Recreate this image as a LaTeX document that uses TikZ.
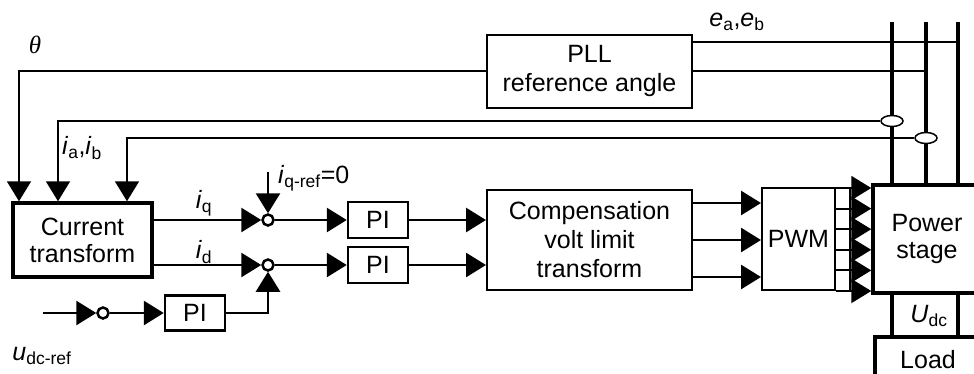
\documentclass[tikz,border=0pt]{standalone}
\usepackage{fontspec}
\setmainfont{Liberation Sans}
\newfontfamily\thetafont{Liberation Serif}
\usetikzlibrary{positioning, shapes, arrows.meta}

\tikzset{
  blk/.style={draw, line width=2pt, align=center, inner sep=0pt},
  sig/.style={line width=2.8pt, -{Triangle[length=20pt,width=24pt]}},
  fb/.style={line width=1.8pt, -{Triangle[length=20pt,width=24pt]}},
  wire/.style={line width=1.6pt},
  bus/.style={line width=4.5pt},
  sumpt/.style={draw, circle, line width=2.5pt, fill=white, inner sep=0pt, minimum size=11pt},
  tap/.style={draw, ellipse, line width=1.5pt, fill=white, inner sep=0pt, minimum width=22pt, minimum height=11pt},
  lbl/.style={inner sep=0pt},
}

\begin{document}
\begin{tikzpicture}[x=1pt, y=-1pt, font=\fontsize{25}{29}\selectfont]
  \useasboundingbox (0,0) rectangle (974,373);
  \clip (0,0) rectangle (974,373);

  % Blocks
  \node[blk, line width=3.5pt, minimum width=139pt, minimum height=74pt, font=\fontsize{25}{27}\selectfont] (ct) at (82.5,240) {Current\\transform};
  \node[blk, minimum width=205pt, minimum height=73pt] (pll) at (589.5,71) {PLL\\reference angle};
  \node[blk, minimum width=205pt, minimum height=100pt] (comp) at (589.5,240) {Compensation\\volt limit\\transform};
  \node[blk, line width=2.5pt, minimum width=60pt, minimum height=36pt] (pi1) at (378,220) {PI};
  \node[blk, line width=2.5pt, minimum width=60pt, minimum height=36pt] (pi2) at (378,265) {PI};
  \node[blk, line width=2.5pt, minimum width=60pt, minimum height=35pt] (pi3) at (195,313) {PI};
  \node[blk, minimum width=73pt, minimum height=102pt] (pwm) at (798.5,239) {PWM};
  \node[blk, line width=3.5pt, minimum width=108pt, minimum height=108pt, font=\fontsize{25}{27}\selectfont] (ps) at (927,239) {Power\\stage};
  \node[blk, line width=3.5pt, minimum width=106pt, minimum height=46pt] (load) at (928,360) {Load};

  \node[sumpt] (s1) at (268,220) {};
  \node[sumpt] (s2) at (268,265) {};
  \node[sumpt] (s3) at (103,313) {};

  \coordinate (b1) at (892,22);
  \coordinate (b2) at (926,22);
  \coordinate (b3) at (958,22);
  \coordinate (ea) at (958,42);
  \coordinate (eb) at (926,71);
  \coordinate (th) at (19,71);
  \coordinate (ina) at (58,121);
  \coordinate (inb) at (127,138);
  \coordinate (qref) at (268,172);
  \coordinate (udc) at (43,313);

  % Grid side
  \foreach \b in {b1,b2,b3}
    \draw[bus] (\b) -- (\b |- ps.north);
  \draw[wire] (pll.east |- ea) -- (ea);
  \draw[wire] (pll.east |- eb) -- (eb);
  \draw[bus] (ps.south -| b1) -- (load.north -| b1);
  \draw[bus] (ps.south -| b3) -- (load.north -| b3);

  % Feedback
  \draw[fb] (pll) -| (th |- ct.north);
  \node[tap] (ta) at (892,121) {};
  \node[tap] (tb) at (926,138) {};
  \draw[fb] (ta) -| (ina |- ct.north);
  \draw[fb] (tb) -| (inb |- ct.north);

  % Control path
  \draw[sig] (ct.east |- s1) -- (s1);
  \draw[sig] (ct.east |- s2) -- (s2);
  \draw[sig] (qref) -- (s1);
  \draw[sig] (s1) -- (pi1);
  \draw[sig] (s2) -- (pi2);
  \draw[sig] (pi1) -- (pi1 -| comp.west);
  \draw[sig] (pi2) -- (pi2 -| comp.west);
  \draw[sig] (udc) -- (s3);
  \draw[sig] (s3) -- (pi3);
  \draw[sig] (pi3) -| (s2);
  \foreach \y in {203,240,277}
    \draw[sig] (comp.east |- 0,\y) -- (pwm.west |- 0,\y);
  \foreach \y in {188,208.6,229.2,249.8,270.4,291}
    \draw[sig, line width=2pt] (pwm.east |- 0,\y) -- (ps.west |- 0,\y);
  \draw[line width=2pt] ([xshift=14pt]pwm.north east) -- ([xshift=14pt,yshift=-1pt]pwm.south east);

  % Labels
  \node[lbl] (lth) at (35,45) {\thetafont\itshape θ};
  \node[lbl] (le) at (737,22) {\textit{e}\textsubscript{a},\textit{e}\textsubscript{b}};
  \node[lbl, anchor=west] (lab) at (62,148) {\textit{i}\textsubscript{a},\textit{i}\textsubscript{b}};
  \node[lbl] (liq) at (204,203) {\textit{i}\textsubscript{q}};
  \node[lbl] (lid) at (204,252) {\textit{i}\textsubscript{d}};
  \node[lbl, anchor=west] (lqr) at (278,178) {\textit{i}\textsubscript{q-ref}=0};
  \node[lbl] (lud) at (42,356) {\textit{u}\textsubscript{dc-ref}};
  \node[lbl] (lU) at (929,316) {\textit{U}\textsubscript{dc}};
\end{tikzpicture}
\end{document}
